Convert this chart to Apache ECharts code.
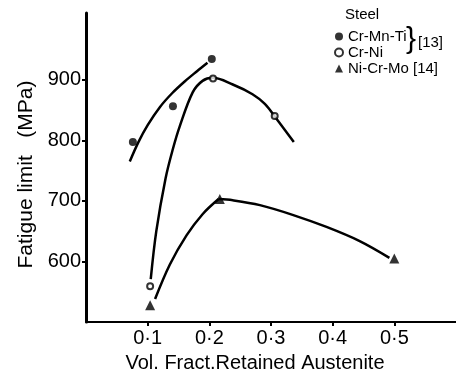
<!DOCTYPE html>
<html>
<head>
    <meta charset="utf-8">
    <title>Fatigue limit</title>
    <script src="https://cdn.jsdelivr.net/npm/echarts@6/dist/echarts.min.js"></script>
</head>
<body style="margin:0;background:#fff;">
    <div id="main" style="width:456px;height:378px;"></div>
    <script type="text/javascript">
        // measured points (vol. fraction, MPa)
        var crMnTi = [[0.076, 797], [0.141, 856], [0.204, 934]];
        var crNi = [[0.104, 559], [0.206, 902], [0.306, 840]];
        var niCrMo = [[0.104, 528], [0.217, 703], [0.5, 605]];

        // hand drawn fit curves
        var crMnTiCurve = [[0.071, 765], [0.085, 797], [0.10, 825], [0.12, 855], [0.14, 878], [0.16, 897], [0.18, 914], [0.197, 928]];
        var crNiCurve = [[0.105, 571], [0.114, 650], [0.129, 737], [0.141, 786], [0.152, 823], [0.173, 879],
            [0.189, 898], [0.2055, 903], [0.238, 892], [0.270, 876], [0.290, 860], [0.307, 838], [0.337, 797]];
        var niCrMoRise = [[0.112, 538], [0.136, 595], [0.163, 643], [0.189, 678], [0.215, 703]];
        var niCrMoFall = [[0.215, 703], [0.238, 701], [0.282, 693], [0.335, 677], [0.390, 657], [0.443, 634], [0.492, 606]];

        var xTicks = [0.1, 0.2, 0.3, 0.4, 0.5];
        var yTicks = [600, 700, 800, 900];

        var font = 'Liberation Sans';
        var myChart = echarts.init(document.getElementById('main'));

        function curve(data) {
            return {
                type: 'line', data: data, smooth: 0.35, showSymbol: false, silent: true,
                lineStyle: { color: '#000', width: 2.5 }, z: 2
            };
        }

        myChart.setOption({
            backgroundColor: '#fff',
            animation: false,
            grid: { left: 86, right: 0, top: 13, bottom: 53 },
            legend: {
                orient: 'vertical', left: 329, top: 24,
                itemWidth: 8, itemHeight: 8, itemGap: 1,
                textStyle: { fontFamily: font, fontSize: 15, color: '#000' },
                data: [
                    { name: 'Cr-Mn-Ti', icon: 'circle', itemStyle: { color: '#000' } },
                    { name: 'Cr-Ni', icon: 'emptyCircle', itemStyle: { color: '#000', borderColor: '#000', borderWidth: 1.5 } },
                    { name: 'Ni-Cr-Mo [14]', icon: 'triangle', itemStyle: { color: '#000' } }
                ]
            },
            graphic: [
                { type: 'text', left: 345, top: 7, style: { text: 'Steel', font: '15px "Liberation Sans"', fill: '#000' } },
                { type: 'text', left: 406, top: 25, style: { text: '}', font: '30px "Liberation Sans"', fill: '#000' } },
                { type: 'text', left: 418, top: 35, style: { text: '[13]', font: '15px "Liberation Sans"', fill: '#000' } }
            ],
            xAxis: {
                type: 'value', min: 0, max: 0.6,
                name: 'Vol. Fract.Retained Austenite', nameLocation: 'middle', nameGap: 20,
                nameTextStyle: { fontFamily: font, fontSize: 20, color: '#000', padding: [0, 32, 0, 0] },
                axisLine: { lineStyle: { color: '#000', width: 2 } },
                axisTick: { customValues: xTicks, length: 4, lineStyle: { color: '#000', width: 2 } },
                axisLabel: {
                    customValues: xTicks, margin: 6, fontFamily: font, fontSize: 20, color: '#000',
                    formatter: function (v) { return v.toFixed(1).replace('.', '\u00b7'); }
                },
                splitLine: { show: false }
            },
            yAxis: {
                type: 'value', min: 500, max: 1010,
                name: 'Fatigue limit   (MPa)', nameLocation: 'middle', nameGap: 45,
                nameTextStyle: { fontFamily: font, fontSize: 21, color: '#000', padding: [0, 14, 0, 0] },
                axisLine: { show: true, lineStyle: { color: '#000', width: 3 } },
                axisTick: { show: true, customValues: yTicks, length: 4, lineStyle: { color: '#000', width: 2 } },
                axisLabel: { customValues: yTicks, margin: 5, fontFamily: font, fontSize: 20, color: '#000' },
                splitLine: { show: false }
            },
            series: [
                curve(crMnTiCurve),
                curve(crNiCurve),
                curve(niCrMoRise),
                curve(niCrMoFall),
                {
                    name: 'Cr-Mn-Ti', type: 'scatter', data: crMnTi, symbol: 'circle', symbolSize: 8,
                    itemStyle: { color: '#000' }, z: 3
                },
                {
                    name: 'Cr-Ni', type: 'scatter', data: crNi, symbol: 'emptyCircle', symbolSize: 6,
                    itemStyle: { color: '#000', borderWidth: 1.5 }, z: 3
                },
                {
                    name: 'Ni-Cr-Mo [14]', type: 'scatter', data: niCrMo, symbol: 'triangle', symbolSize: 10,
                    itemStyle: { color: '#000' }, z: 3
                }
            ]
        });
    </script>
</body>
</html>
